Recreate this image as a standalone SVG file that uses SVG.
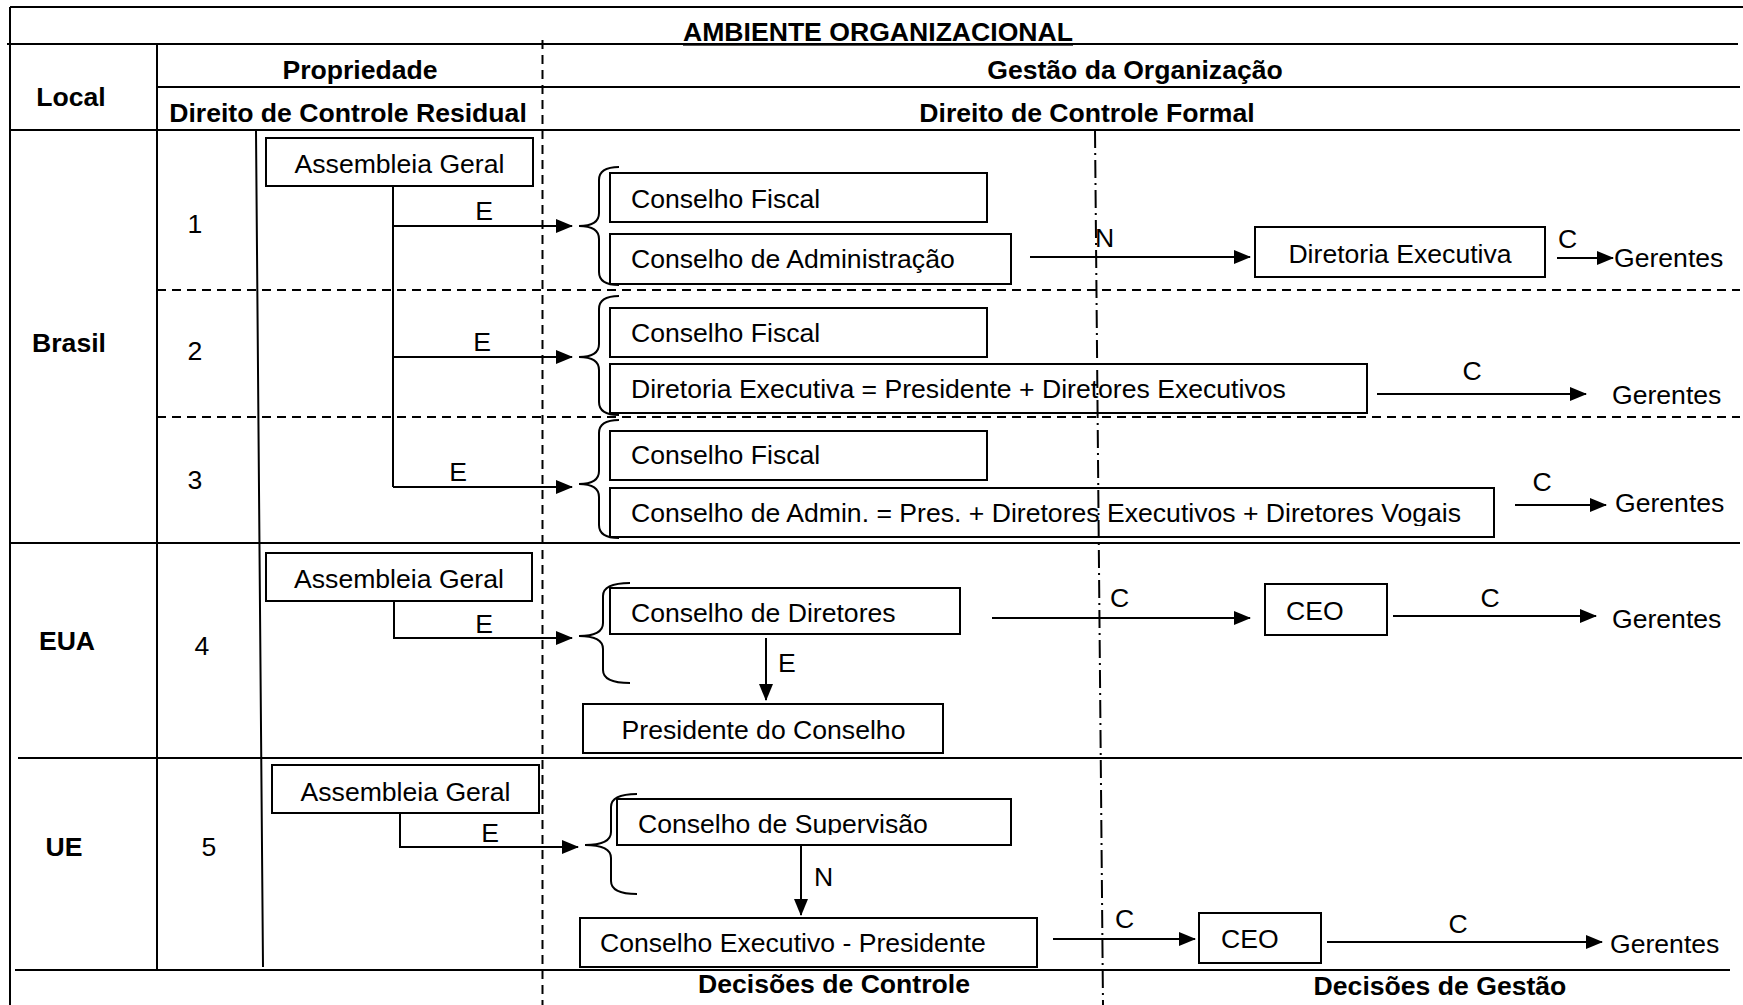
<svg xmlns="http://www.w3.org/2000/svg" width="1743" height="1005" viewBox="0 0 1743 1005">
<style>
.ln{stroke:#000;stroke-width:2;fill:none}
.dash{stroke-dasharray:9 6}
.dd{stroke-dasharray:18 5 2 5}
.box{fill:none;stroke:#000;stroke-width:2}
.t{font-family:"Liberation Sans",Arial,sans-serif;font-size:26.6px;fill:#000}
.b{font-weight:bold}
.m{text-anchor:middle}
.ar{stroke:#000;stroke-width:2;fill:none;marker-end:url(#ah)}
</style>
<defs>
<marker id="ah" markerUnits="userSpaceOnUse" markerWidth="17" markerHeight="14" refX="16" refY="7" orient="auto">
<path d="M0,0 L17,7 L0,14 z" fill="#000"/>
</marker>
<clipPath id="clipSup"><rect x="600" y="790" width="420" height="45"/></clipPath>
<clipPath id="clipVog"><rect x="600" y="480" width="900" height="46"/></clipPath>
</defs>
<rect width="1743" height="1005" fill="#fff"/>
<g id="table">
<path class="ln" d="M10,7 H1743 M10,7 V1005 M7,44 H1738 M157,44 V970 M157,87 H1740 M10,130 H1740 M256,131 L263,967 M10,543 H1740 M18,758 H1742 M15,970 H1730"/>
<path class="ln dash" d="M157,290 H1740 M157,417 H1740 M542.5,40 V1005"/>
<path class="ln dd" d="M1095,130 L1103,1005"/>
</g>
<g id="headers">
<text class="t b m" x="878" y="41" text-decoration="underline">AMBIENTE ORGANIZACIONAL</text>
<text class="t b m" x="71" y="106">Local</text>
<text class="t b m" x="360" y="79">Propriedade</text>
<text class="t b m" x="348" y="122">Direito de Controle Residual</text>
<text class="t b m" x="1135" y="79">Gestão da Organização</text>
<text class="t b m" x="1087" y="122">Direito de Controle Formal</text>
<text class="t b m" x="69" y="352">Brasil</text>
<text class="t m" x="195" y="233">1</text>
<text class="t m" x="195" y="360">2</text>
<text class="t m" x="195" y="489">3</text>
<text class="t b m" x="67" y="650">EUA</text>
<text class="t m" x="202" y="655">4</text>
<text class="t b m" x="64" y="856">UE</text>
<text class="t m" x="209" y="856">5</text>
<text class="t b m" x="834" y="993">Decisões de Controle</text>
<text class="t b m" x="1440" y="995">Decisões de Gestão</text>
</g>
<g id="braces">
<path class="ln" d="M619,167 Q599,167 599,180 V213 Q599,226 579,226 Q599,226 599,239 V272 Q599,285 619,285"/>
<path class="ln" d="M619,296 Q599,296 599,309 V344 Q599,357 579,357 Q599,357 599,370 V402 Q599,415 619,415"/>
<path class="ln" d="M619,420 Q599,420 599,433 V471 Q599,484 579,484 Q599,484 599,497 V525 Q599,538 619,538"/>
<path class="ln" d="M630,583 Q603,583 603,596 V623 Q603,636 579,636 Q603,636 603,649 V670 Q603,683 630,683"/>
<path class="ln" d="M637,794 Q611,794 611,807 V832 Q611,845 585,845 Q611,845 611,858 V881 Q611,894 637,894"/>
</g>
<g id="n-ag1"><rect class="box" x="266" y="138" width="267" height="48"/><text class="t m" x="399.5" y="173">Assembleia Geral</text></g>
<g id="n-cf1"><rect class="box" x="610" y="173" width="377" height="49"/><text class="t" x="631" y="208">Conselho Fiscal</text></g>
<g id="n-ca1"><rect class="box" x="610" y="234" width="401" height="50"/><text class="t" x="631" y="268">Conselho de Administração</text></g>
<g id="n-de1"><rect class="box" x="1255" y="227" width="290" height="50"/><text class="t m" x="1400" y="263">Diretoria Executiva</text></g>
<g id="n-g1"><text class="t" x="1614" y="267">Gerentes</text></g>
<g id="n-cf2"><rect class="box" x="610" y="308" width="377" height="49"/><text class="t" x="631" y="342">Conselho Fiscal</text></g>
<g id="n-de2"><rect class="box" x="610" y="364" width="757" height="49"/><text class="t" x="631" y="398">Diretoria Executiva = Presidente + Diretores Executivos</text></g>
<g id="n-g2"><text class="t" x="1612" y="404">Gerentes</text></g>
<g id="n-cf3"><rect class="box" x="610" y="431" width="377" height="49"/><text class="t" x="631" y="464">Conselho Fiscal</text></g>
<g id="n-ca3"><rect class="box" x="610" y="488" width="884" height="49"/><text class="t" x="631" y="522" clip-path="url(#clipVog)">Conselho de Admin. = Pres. + Diretores Executivos + Diretores Vogais</text></g>
<g id="n-g3"><text class="t" x="1615" y="512">Gerentes</text></g>
<g id="n-ag4"><rect class="box" x="266" y="553" width="266" height="48"/><text class="t m" x="399" y="588">Assembleia Geral</text></g>
<g id="n-cd4"><rect class="box" x="610" y="588" width="350" height="46"/><text class="t" x="631" y="622">Conselho de Diretores</text></g>
<g id="n-pc4"><rect class="box" x="583" y="704" width="360" height="49"/><text class="t m" x="763.5" y="739">Presidente do Conselho</text></g>
<g id="n-ceo4"><rect class="box" x="1265" y="584" width="122" height="51"/><text class="t" x="1286" y="620">CEO</text></g>
<g id="n-g4"><text class="t" x="1612" y="628">Gerentes</text></g>
<g id="n-ag5"><rect class="box" x="272" y="765" width="267" height="48"/><text class="t m" x="405.5" y="801">Assembleia Geral</text></g>
<g id="n-cs5"><rect class="box" x="617" y="799" width="394" height="46"/><text class="t" x="638" y="833" clip-path="url(#clipSup)">Conselho de Supervisão</text></g>
<g id="n-ce5"><rect class="box" x="580" y="918" width="457" height="49"/><text class="t" x="600" y="952">Conselho Executivo - Presidente</text></g>
<g id="n-ceo5"><rect class="box" x="1199" y="913" width="122" height="50"/><text class="t" x="1221" y="948">CEO</text></g>
<g id="n-g5"><text class="t" x="1610" y="953">Gerentes</text></g>
<g id="connectors">
<path class="ln" d="M393,186 V487"/>
<path class="ar" d="M393,226 H572"/>
<path class="ar" d="M393,357 H572"/>
<path class="ar" d="M393,487 H572"/>
<path class="ar" d="M1030,257 H1250"/>
<path class="ar" d="M1557,258 H1613"/>
<path class="ar" d="M1377,394 H1586"/>
<path class="ar" d="M1515,505 H1606"/>
<path class="ar" d="M394,601 V638 H572"/>
<path class="ar" d="M766,638 V700"/>
<path class="ar" d="M992,618 H1250"/>
<path class="ar" d="M1393,616 H1596"/>
<path class="ar" d="M400,813 V847 H578"/>
<path class="ar" d="M801,846 V915"/>
<path class="ar" d="M1053,939 H1195"/>
<path class="ar" d="M1327,942 H1602"/>
<text class="t m" x="484" y="220">E</text>
<text class="t m" x="482" y="351">E</text>
<text class="t m" x="458" y="481">E</text>
<text class="t" x="1095" y="247">N</text>
<text class="t" x="1558" y="248">C</text>
<text class="t m" x="1472" y="380">C</text>
<text class="t m" x="1542" y="491">C</text>
<text class="t m" x="484" y="633">E</text>
<text class="t" x="778" y="672">E</text>
<text class="t" x="1110" y="607">C</text>
<text class="t m" x="1490" y="607">C</text>
<text class="t m" x="490" y="842">E</text>
<text class="t" x="814" y="886">N</text>
<text class="t" x="1115" y="928">C</text>
<text class="t m" x="1458" y="933">C</text>
</g>
</svg>
